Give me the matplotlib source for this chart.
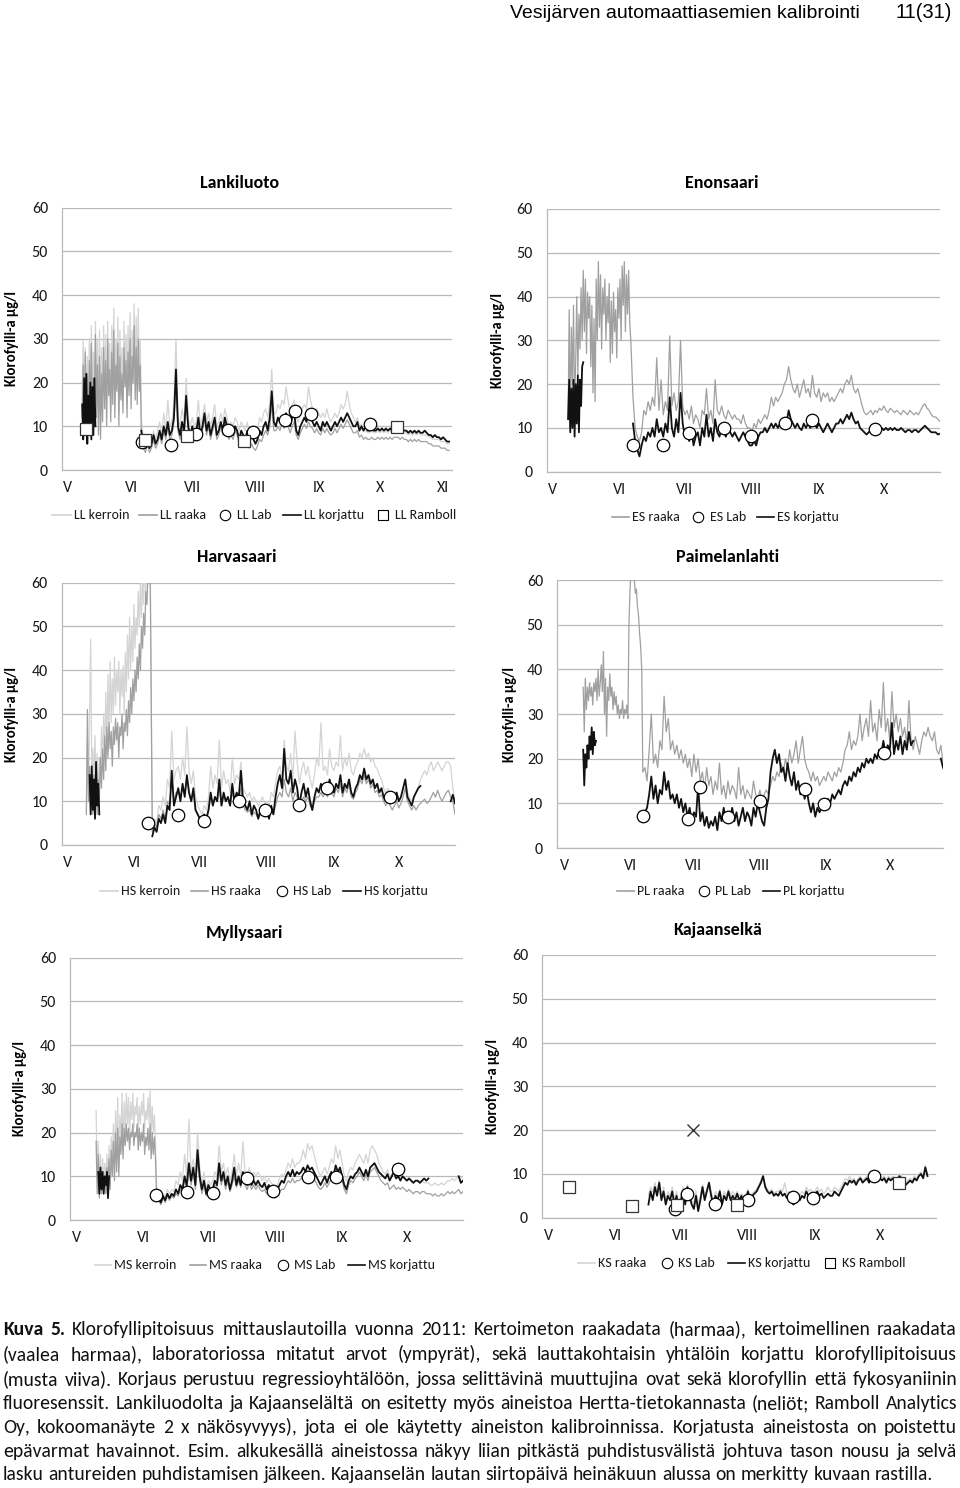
import numpy as np
import matplotlib
matplotlib.use('Agg')
import matplotlib.pyplot as plt
from matplotlib import font_manager
from matplotlib.lines import Line2D

nan = float('nan')

# ---------------------------------------------------------------
# Data (days counted from 1 May 2011)
# "_a" parts are sampled every 0.5 day, "_b" parts every day
# ---------------------------------------------------------------
month_days = [0, 31, 61, 92, 123, 153, 184]
month_names = ['V', 'VI', 'VII', 'VIII', 'IX', 'X', 'XI']

# Lankiluoto
ll_a_start, ll_b_start = 7.0, 36.0
ll_kerroin_a = [16, 30, 12, 28, 14, 26, 10, 30, 17, 33, 13, 27, 19, 34, 15, 30, 11, 32, 10, 28,
                14, 33, 18, 31, 13, 34, 21, 29, 14, 33, 19, 37, 15, 30, 22, 35, 13, 32, 20, 28,
                16, 34, 23, 31, 15, 33, 21, 36, 18, 32, 24, 38, 20, 35, 19, 37, 22, 30]
ll_raaka_a = [12, 24, 9, 27, 11, 22, 8, 25, 13, 29, 10, 21, 15, 31, 12, 24, 8, 26, 7, 22,
              11, 28, 14, 25, 10, 30, 17, 23, 11, 27, 15, 32, 12, 24, 18, 29, 10, 26, 16, 22,
              13, 28, 19, 25, 12, 27, 17, 30, 14, 26, 20, 33, 16, 28, 15, 30, 18, 24]
ll_korj_a = [15, 7, 21, 8, 22, 6, 17, 9, 20, 7, 19, 8, 21, 10]
ll_korj_b = [9, 6, 5, 7, 5, 6, 8, 6, 7, 9, 7, 10, 8, 11, 8, 9, 12, 23, 10, 8,
             11, 9, 17, 10, 8, 10, 8, 9, 12, 8, 10, 13, 9, 11, 8, 10, 12, 8, 9, 11,
             9, 12, 10, 8, 9, 8, 10, 9, 7, 9, 8, 7, 9, 6, 8, 7, 6, 7, 9, 8,
             10, 11, 9, 12, 18, 11, 10, 12, 11, 12, 11, 13, 12, 10, 12, 13, 9, 8, 10, 11,
             12, 11, 13, 12, 11, 10, 11, 10, 9, 11, 10, 11, 10, 9, 10, 11, 10, 11, 12, 11,
             12, 13, 12, 11, 10, 10, 11, 9, 10, 9, 10, 9, 9, 10, 9, 9, 9.5, 9, 9.5, 9,
             9.5, 9, 9.5, 9, 10, 9.5, 9.5, 9, 9.5, 9, 9, 8.5, 9, 8.5, 9, 8.5, 9, 8.5, 8.5, 9,
             8.5, 8, 8, 7.5, 8, 7.5, 7.5, 7, 7.5, 7, 6.5, 6.5]
ll_raaka_b = [8, 5, 4, 6, 4, 5, 7, 5, 6, 8, 6, 9, 7, 10, 7, 8, 11, 20, 9, 7,
              10, 8, 15, 9, 7, 9, 7, 8, 11, 7, 9, 12, 8, 10, 7, 9, 11, 7, 8, 10,
              8, 11, 9, 7, 8, 7, 9, 8, 6, 8, 7, 6, 7, 5, 6, 5, 4.5, 5.5, 7, 6.5,
              8, 9, 8, 10, 15, 9, 9, 10, 9, 10.5, 9.5, 11, 10, 8.5, 10, 11, 8, 7, 8.5, 9.5,
              10.5, 9.5, 11, 10, 9.5, 8.5, 9.5, 8.5, 8, 9.5, 8.5, 9.5, 8.5, 8, 8.5, 9.5, 8.5, 9.5, 10.5, 9.5,
              10.5, 11.5, 10.5, 9.5, 8.5, 8.5, 9, 7.5, 8, 7, 7.5, 7, 7, 7.5, 7, 7, 7.5, 7, 7.5, 7,
              7.5, 7, 7.5, 7, 7.5, 7.5, 7.5, 7, 7.5, 7, 7, 6.5, 7, 6.5, 7, 6.5, 7, 6.5, 6.5, 6.5,
              6.5, 6, 6, 5.5, 5.5, 5.5, 5.5, 5, 5, 5, 4.5, 4.5]
ll_kerroin_b = [12, 7, 6, 8, 6, 7, 9, 7, 9, 11, 8, 13, 9, 16, 10, 11, 15, 30, 12, 10,
                14, 11, 21, 12, 10, 12, 10, 11, 16, 10, 12, 15, 11, 13, 10, 12, 15, 10, 11, 13,
                11, 14, 12, 10, 11, 10, 12, 11, 9, 11, 10, 9, 11, 8, 10, 9, 8, 9, 12, 11,
                13, 14, 12, 15, 23, 13, 13, 15, 14, 16, 15, 19, 16, 13, 15, 16, 12, 11, 13, 14,
                15, 14, 19, 16, 14, 13, 14, 13, 12, 13, 12, 14, 12, 11, 12, 13, 12, 13, 15, 14,
                15, 18, 15, 13, 12, 11, 12, 10, 10.5, 9, 9, 8.5, 8.5, 9, 8.5, 8.5, 9, 8.5, 9, 8.5,
                9, 8.5, 9, 8.5, 9, 9, 9, 8.5, 9, 8.5, 8.5, 8, 8.5, 8, 8.5, 8, 8.5, 8, 8, 8,
                8, 7.5, 7.5, 7, 7, 7, 7, 6.5, 6.5, 6.5, 6, 6]
ll_lab_days = [36.5, 50.6, 62.6, 78.5, 90.6, 106.4, 111.2, 119.2, 148.2]
ll_lab_vals = [6.3, 5.7, 8.2, 9.2, 8.7, 11.4, 13.4, 12.9, 10.5]
ll_ramboll_days = [8.8, 37.8, 58.5, 86.5, 161.3]
ll_ramboll_vals = [9.4, 6.8, 7.7, 6.7, 9.8]

# Enonsaari
es_a_start, es_b_start = 7.0, 37.0
es_raaka_a = [12, 37, 10, 33, 20, 38, 15, 25, 40, 22, 36, 28, 42, 30, 46, 32, 44, 27, 41, 35,
              40, 24, 38, 18, 35, 16, 44, 30, 48, 33, 45, 28, 42, 36, 44, 30, 40, 34, 43, 25,
              39, 27, 41, 32, 37, 26, 42, 35, 44, 30, 47, 38, 48, 32, 45, 36, 46, 34, 30]
es_korj_a = [12, 21, 9, 19, 10, 21, 8, 20, 11, 22, 9, 21, 15, 24, 25]
es_korj_b = [11, 7, 5, 3.5, 6, 8, 7, 9, 8, 10, 8, 12, 9, 10, 8, 11, 9, 17, 10, 8,
             12, 9, 18, 11, 8, 9, 7, 10, 6, 8, 9, 6, 10, 8, 13, 8, 10, 7, 12, 9,
             8, 10, 9, 8, 10, 9, 8, 9, 8, 7, 8, 9, 8, 7, 6, 6, 7, 6, 8, 9,
             9, 10, 9, 10, 11, 10, 11, 10, 11, 10, 12, 11, 14, 12, 11, 10, 11, 10, 9.5, 11,
             10, 11, 10, 12, 11, 10, 11, 10, 9, 10, 11, 10, 9, 10, 11, 11, 12, 11, 12, 13,
             12, 13.5, 12, 11, 11.5, 10, 9.5, 9, 8.5, 9, 9.5, 10, 9.5, 10, 9.5, 10, 9.5, 10, 9.5, 10,
             9.5, 10, 9.5, 9.5, 10, 9.5, 9, 9.5, 9.5, 9, 9.5, 9.5, 9, 9.5, 10, 10.5, 10, 9.5, 9, 9,
             9, 8.5, 8.7]
es_raaka_b = [17, 10, 8, 7, 9, 14, 13, 16, 14, 17, 15, 26, 14, 21, 13, 16, 14, 31, 15, 18,
              14, 16, 30, 15, 13, 14, 12, 15, 11, 13, 12, 10, 14, 13, 19, 12, 14, 11, 21, 14,
              13, 15, 13, 12, 14, 13, 12, 13, 12, 12, 11, 13, 11, 10, 10, 9, 11, 10, 12, 11,
              12, 13, 12, 14, 17, 15, 17, 16, 17, 18, 20, 21, 24, 21, 19, 18, 20, 17, 19, 21,
              18, 19, 17, 22, 18, 17, 19, 16, 18, 17, 18, 16, 17, 16, 17, 18, 19, 18, 20, 21,
              20, 22, 19, 18, 19, 17, 15, 13.5, 13, 13.5, 14, 13, 14, 13.5, 14.5, 14, 15, 14, 13.5, 14.5,
              14, 13.5, 14, 13.5, 13, 14, 13.5, 13, 14, 13.5, 13, 13.5, 13, 14, 15, 15.5, 14.5, 14, 13, 12.5,
              12.5, 12, 11.5]
es_lab_days = [37.1, 51, 63, 79.2, 91.4, 107.3, 120, 148.9]
es_lab_vals = [6.1, 6.1, 8.9, 9.9, 8.2, 11.1, 11.7, 9.7]

# Harvasaari
hs_a_start, hs_b_start, hs_korj_a_start = 8.5, 39.0, 10.0
hs_kerroin_a = [8, 24, 11, 30, 47, 18, 22, 15, 25, 12, 21, 9, 20, 14, 27, 18, 30, 20, 35, 22,
                39, 25, 42, 28, 38, 30, 43, 32, 40, 35, 42, 30, 40, 34, 41, 30, 44, 35, 48, 38,
                52, 40, 50, 42, 55, 45, 52, 48, 58, 50, 60, 52, 62, 55, 65, 58, 66, 60, 68, 65]
hs_raaka_a = [7, 31, 10, 18, 8, 15, 7, 16, 9, 19, 7, 15, 10, 20, 13, 22, 15, 25, 17, 27,
              20, 28, 22, 26, 18, 27, 23, 29, 24, 28, 20, 27, 25, 30, 22, 28, 26, 31, 25, 33,
              28, 36, 30, 38, 33, 40, 35, 43, 38, 46, 40, 50, 45, 53, 48, 58, 55, 62, 60, 64]
hs_korj_a = [16, 7, 18, 8, 15, 6, 19, 9, 14, 7]
hs_korj_b = [2, 4, 3, 6, 5, 7, 5, 9, 8, 17, 9, 11, 13, 10, 14, 11, 16, 12, 10, 13,
             8, 7, 6, 5.5, 7, 6, 8, 12, 9, 11, 10, 15, 9, 12, 10, 11, 9, 14, 10, 12,
             11, 17, 10, 9, 8, 10, 7, 9, 8, 6, 8, 9, 7, 8, 6, 9, 7, 11, 14, 16,
             13, 22, 15, 14, 17, 12, 15, 13, 9, 12, 14, 11, 13, 10, 8, 11, 13, 12, 14, 12,
             13, 12, 15, 13, 12, 14, 13, 16, 12, 14, 13, 15, 12, 11, 13, 14, 16, 15, 17.5, 15,
             16, 14, 15, 13, 14, 12, 13, 11, 10, 12, 11, 10, 11, 12, 10, 11, 13, 15, 11, 10,
             9, 11, 12, 13, 13.5, nan, nan, nan, nan, nan, nan, nan, nan, nan, nan, nan, nan, nan, 10, 11.5,
             9.5]
hs_raaka_b = [3, 5, 4, 7, 6, 8, 6, 10, 9, 15, 10, 12, 12, 11, 13, 12, 15, 12, 10, 12,
              8, 7, 6, 5.5, 7, 6, 8, 11, 9, 11, 10, 13, 9, 11, 10, 10, 9, 12, 10, 11,
              10, 13, 9, 8, 7.5, 8, 6.5, 7.5, 7, 6, 7, 8, 6.5, 7, 6, 8, 7, 9, 11, 12,
              11, 15, 12, 11, 13, 10, 12, 11, 8.5, 10, 11, 10, 11, 9, 8, 10, 11, 11, 12, 11,
              12, 11, 13, 12, 11, 13, 12, 14, 11, 13, 12, 14, 11, 10.5, 12, 13, 15, 14, 16, 14,
              15, 13, 14, 12, 12.5, 11, 11.5, 10, 9, 10, 9, 8, 9, 10, 8.5, 9.5, 11, 13, 10, 9,
              8, 9, 8, 9, 9.5, 10, 10.5, 9.5, 10, 11, 12, 11, 12.5, 11, 10, 11, 12, 12.5, 11, 10,
              7]
hs_kerroin_b = [4, 6, 5, 9, 8, 11, 9, 15, 13, 26, 15, 17, 18, 15, 20, 16, 27, 17, 14, 17,
                11, 9, 8, 7, 9, 8, 11, 18, 13, 16, 14, 24, 13, 17, 14, 15, 12, 20, 14, 16,
                15, 19, 13, 12, 11, 12, 10, 11, 10, 9, 10, 11, 9.5, 10, 9, 12, 11, 14, 17, 18,
                15, 24, 18, 17, 21, 15, 26, 19, 14, 17, 19, 16, 18, 15, 13, 16, 20, 18, 28, 17,
                18, 16, 22, 18, 17, 19, 18, 25, 17, 20, 18, 21, 17, 16, 18, 19, 21, 20, 22, 20,
                21, 19, 20, 18, 17.5, 16, 15, 13, 12, 13, 11, 10, 11, 12, 10, 11, 13, 15, 12, 11,
                10, 11, 12, 13, 15, 16, 17, 16, 18, 19, 17, 18, 19, 18, 17, 18, 19, 19, 18, 13,
                10]
hs_lab_days = [36.8, 51, 62.9, 79.1, 91.1, 106.9, 119.9, 148.9]
hs_lab_vals = [5.0, 6.9, 5.5, 10.1, 8.0, 9.1, 13.0, 10.9]

# Paimelanlahti
pl_a_start, pl_b_start = 9.0, 38.0
pl_raaka_a = [36, 26, 38, 31, 36, 33, 37, 34, 36, 32, 37, 35, 38, 33, 40, 34, 37, 41, 35, 44,
              30, 38, 25, 36, 33, 39, 34, 36, 31, 35, 32, 34, 30, 32, 29, 31, 30, 33, 29, 31,
              30, 32, 29, 50, 58, 62, 65, 62, 60, 57, 58, 54, 52, 48, 45, 40, 17]
pl_korj_a = [22, 14, 21, 18, 23, 20, 25, 22, 27, 21, 26, 23, 24]
pl_raaka_b = [18, 15, 22, 30, 19, 21, 18, 24, 22, 34, 26, 29, 22, 24, 21, 23, 20, 22, 19, 21,
              18, 20, 16, 21, 17, 20, 15, 17, 13, 18, 14, 16, 12, 15, 13, 19, 12, 14, 11, 15,
              12, 14, 13, 11, 18, 12, 14, 11, 13, 12, 11, 15, 12, 11, 13, 10, 12, 13, 12, 14,
              16, 15, 17, 16, 19, 17, 20, 18, 22, 19, 21, 24, 19, 22, 25, 20, 18, 17, 15, 17,
              15, 16, 14, 15, 16, 15, 17, 16, 15, 17, 16, 18, 17, 19, 22, 23, 26, 22, 24, 23,
              25, 30, 24, 27, 29, 25, 33, 26, 28, 24, 31, 27, 37, 26, 29, 24, 35, 27, 30, 26,
              29, 25, 27, 23, 33, 24, 22, 25, 23, 21, 24, 26, 25, 27, 25, 24, 26, 22, 21, 23,
              19, 17]
pl_korj_b = [8, 9, 12, 16, 11, 14, 10, 13, 12, 17, 13, 15, 11, 12, 10, 12, 9, 11, 8, 10,
             7, 9, 6, 8, 7, 14, 6, 8, 5, 7, 4.5, 6, 5, 7, 4, 8, 6, 9, 6, 8,
             7, 9, 6, 8, 5, 7, 9, 6, 8, 7, 5, 9, 7, 10, 8, 6, 5, 9, 11, 17,
             20, 22, 19, 21, 17, 18, 15, 19, 16, 14, 17, 13, 15, 12, 14, 11, 13, 10, 8, 10,
             7, 9, 8, 9, 10, 9, 11, 10, 12, 11, 12, 13, 12, 14, 15, 14, 16, 15, 17, 16,
             18, 17, 19, 18, 20, 19, 20, 19, 21, 20, 22, 21, 24, 21, 23, 22, 28, 21, 24, 22,
             25, 21, 24, 22, 26, 23, 24, nan, nan, nan, nan, nan, nan, nan, nan, nan, nan, nan,
             nan, 20, 18, 17]
pl_lab_days = [36.9, 58.1, 63.7, 77.1, 92, 113.2, 122.1, 150.3]
pl_lab_vals = [7.2, 6.6, 13.7, 6.9, 10.6, 13.2, 9.9, 21.2]

# Myllysaari
ms_a_start, ms_b_start, ms_korj_a_start = 9.0, 38.0, 10.0
ms_kerroin_a = [25, 10, 18, 8, 15, 7, 14, 9, 13, 8, 15, 10, 17, 8, 19, 12, 22, 10, 25, 14,
                28, 12, 24, 18, 29, 16, 27, 20, 29, 22, 28, 19, 27, 23, 29, 21, 26, 24, 28, 20,
                26, 22, 27, 24, 29, 21, 25, 23, 28, 22, 30, 19, 26, 20, 24, 18, 8]
ms_raaka_a = [18, 6, 15, 5, 12, 6, 11, 7, 10, 6, 12, 8, 14, 7, 16, 10, 18, 9, 20, 11,
              21, 10, 19, 15, 22, 14, 21, 17, 22, 18, 21, 16, 20, 19, 22, 17, 20, 19, 22, 16,
              21, 17, 20, 18, 22, 15, 19, 17, 21, 16, 22, 14, 20, 15, 19, 14, 6]
ms_korj_a = [11, 6, 12, 7, 11, 6, 10, 8, 11, 5, 10]
ms_korj_b = [5, 4, 5.5, 4.5, 6, 5, 6, 5.5, 7, 6, 8, 7, 10, 8, 13, 9, 12, 8, 16, 10,
             7, 9, 6, 8, 7, 7, 9, 8, 13, 9, 11, 8, 10, 7, 9, 12, 8, 10, 8, 11,
             9, 8, 9.5, 8, 9, 8, 9, 8, 7.5, 8.5, 7, 8, 7, 6.5, 6, 7, 8, 9, 8.5, 10,
             11, 10, 11.5, 10, 11, 10.5, 11, 12, 11, 12.5, 11.5, 12, 11, 10, 9, 8, 9, 10, 8.5, 10,
             11, 10, 12.5, 11, 12, 10, 8, 7, 9, 10, 9.5, 10.5, 11, 12, 11, 10, 11.5, 10, 12, 12.5,
             13, 12, 11, 10.5, 10, 9.5, 10.5, 9, 10, 11, 9.5, 10, 9, 10, 9.5, 9, 9.5, 9, 8.5, 9,
             9, 8.5, 9, 9.5, 9, 9.5, nan, nan, nan, nan, nan, nan, nan, nan, nan, nan, nan, nan,
             nan, 10, 8.5, 9]
ms_raaka_b = [4.5, 3.5, 5, 4, 5.5, 4.5, 5.5, 5, 6, 5.5, 7, 6.5, 9, 7, 11, 8, 11, 7, 14, 9,
              6, 8, 5.5, 7, 6.5, 6.5, 8, 7.5, 11, 8, 10, 7, 9, 6.5, 8, 10, 7.5, 9, 7.5, 10,
              8, 7, 8.5, 7, 8, 7, 8, 7, 6.5, 7, 6, 6.5, 6, 5.5, 5, 5.5, 6.5, 7, 7, 8,
              9, 8.5, 9.5, 8.5, 9, 9, 9.5, 10.5, 9.5, 11, 10, 10.5, 9.5, 8.5, 7.5, 7, 7.5, 8.5, 7.5, 8.5,
              9.5, 9, 11, 9.5, 10.5, 9, 7, 6, 8, 9, 8.5, 9.5, 10, 11, 10, 9, 10.5, 9, 11, 11.5,
              12, 11, 10, 9, 8.5, 8, 8.5, 7, 7.5, 8, 7, 7.5, 7, 7.5, 7, 6.5, 7, 6.5, 6, 6.5,
              6.5, 6, 6.5, 6.5, 6, 6, 6, 5.5, 6, 5.5, 5.5, 6, 5.5, 6, 6.5, 6, 6.5, 6, 6.5, 7,
              6, 6.5]
ms_kerroin_b = [5, 4, 6, 5, 7, 6, 7, 6.5, 9, 8, 11, 9, 15, 10, 23, 11, 14, 10, 20, 12,
                8, 11, 7, 9, 8, 9, 11, 10, 17, 11, 13, 10, 12, 9, 11, 15, 10, 13, 10, 18,
                11, 10, 12, 10, 11, 10, 11, 10, 9, 10, 8.5, 9.5, 8.5, 8, 7, 8, 9.5, 10.5, 10, 11.5,
                13, 12, 14, 12, 13, 13, 14, 16, 14, 17.5, 16, 17, 15, 13, 11, 10, 11, 12, 10.5, 12,
                14, 13, 17, 14, 16, 13, 10, 9, 11, 12, 11.5, 13, 14, 15, 14, 13, 15, 13, 16, 17,
                16, 15, 13, 12, 11, 10.5, 11.5, 10, 10.5, 11, 10, 10.5, 9.5, 10, 9.5, 9, 9.5, 9, 8.5, 9,
                9, 8.5, 9, 8.5, 8.5, 8.5, 8, 8, 8.5, 8, 8, 8.5, 8, 8.5, 9, 9, 9.5, 9, 9.5, 10,
                9.5, 10]
ms_lab_days = [36.7, 50.9, 63, 78.7, 91.1, 107.3, 120.1, 149]
ms_lab_vals = [5.7, 6.3, 6.1, 9.7, 6.6, 9.9, 9.9, 11.7]

# Kajaanselkä
ks_start = 46.0
ks_korj = [3, 6, 4, 7, 5, 8, 4, 6, 3, 5, 4, 6, 3, 5, 2, 4, 6, 3, 7, 5,
           3, 2, 5, 1.5, 4, 7, 4, 6, 8, 5, 3, 5, 4, 6, 3, 5, 4, 6, 4, 5,
           4, 5.5, 4, 5, 3, 4, 6, 3.5, 5, 5.5, 6, 7, 8, 9.5, 7, 6, 5.5, 6, 5, 5.5,
           5, 6, 5, 5.5, 4.5, 5, 4, 3, 3.5, 4.5, 4, 5, 4.5, 6, 5, 5.5, 4.5, 5, 6, 5,
           5.5, 4.5, 5, 5.5, 5, 5, 6, 5.5, 5, 6, 7, 8, 7.5, 8.5, 8, 8.5, 7.5, 8.5, 9, 8,
           8.5, 9, 8, 9, 9.5, 9, 8.5, 9, 8.5, 9, 8, 9, 8.5, 9, 8, 8.5, 9.5, 9, 8, 7.5,
           8, 8.5, 8, 9, 8.5, 9.5, 10, 9, 11.5, 9.5]
ks_raaka = [5, 7, 6, 8, 6, 8.5, 5, 7, 4, 6, 5, 7, 4, 6, 3.5, 5, 7, 4.5, 7.5, 6,
            4, 3, 6, 3, 5, 7.5, 5, 6.5, 8, 6, 4, 6, 5, 6.5, 4, 6, 5, 6.5, 5, 6,
            5, 6, 5, 5.5, 4, 5, 6.5, 4.5, 5.5, 6, 6.5, 7.5, 8.5, 9.5, 7.5, 6.5, 6, 6.5, 5.5, 6,
            6, 6.5, 6, 8, 5.5, 6, 5, 4, 4.5, 5.5, 5, 6, 5.5, 7, 6, 6.5, 5.5, 6, 7, 6,
            6.5, 5.5, 6, 7, 6, 6, 7, 6.5, 6, 7, 8, 9, 8.5, 9.5, 8.5, 9, 8, 9, 9.5, 8.5,
            9, 9.5, 8.5, 9.5, 10, 9.5, 9, 9.5, 9, 9.5, 8.5, 9.5, 9, 9.5, 8.5, 9, 10, 9.5, 8.5, 8,
            8.5, 9, 8.5, 9.5, 9, 10, 10.5, 9.5, 12, 10]
ks_lab_days = [58.3, 63.9, 76.7, 92.2, 113, 121.9, 150.3]
ks_lab_vals = [2.0, 5.3, 3.2, 4.0, 4.8, 4.5, 9.5]
ks_ramboll_days = [9.2, 38.2, 59, 87.1, 162]
ks_ramboll_vals = [6.9, 2.7, 2.9, 3.0, 7.9]
ks_siirto_day, ks_siirto_val = 66.7, 20.0

caption_lines = [
    "Kuva 5. Klorofyllipitoisuus mittauslautoilla vuonna 2011: Kertoimeton raakadata (harmaa), kertoimellinen raakadata",
    "(vaalea harmaa), laboratoriossa mitatut arvot (ympyrät), sekä lauttakohtaisin yhtälöin korjattu klorofyllipitoisuus",
    "(musta viiva). Korjaus perustuu regressioyhtälöön, jossa selittävinä muuttujina ovat sekä klorofyllin että fykosyaniinin",
    "fluoresenssit. Lankiluodolta ja Kajaanselältä on esitetty myös aineistoa Hertta-tietokannasta (neliöt; Ramboll Analytics",
    "Oy, kokoomanäyte 2 x näkösyvyys), jota ei ole käytetty aineiston kalibroinnissa. Korjatusta aineistosta on poistettu",
    "epävarmat havainnot. Esim. alkukesällä aineistossa näkyy liian pitkästä puhdistusvälistä johtuva tason nousu ja selvä",
    "lasku antureiden puhdistamisen jälkeen. Kajaanselän lautan siirtopäivä heinäkuun alussa on merkitty kuvaan rastilla.",
]

# ---------------------------------------------------------------
installed = {f.name for f in font_manager.fontManager.ttflist}


def pick(*names):
    for n in names:
        if n in installed:
            return n
    return 'DejaVu Sans'


FONT = pick('Carlito', 'Lato', 'Open Sans')
HEAD_FONT = pick('Liberation Sans', 'Arimo', 'DejaVu Sans')
plt.rcParams['font.family'] = [FONT, 'DejaVu Sans']

KERROIN = '#d4d4d4'
RAAKA = '#a0a0a0'
KORJ = '#111111'
GRID = '#b9b9b9'
W, H = 960, 1488


def days(start, vals, step=1.0):
    return start + step * np.arange(len(vals))


def two_part(a_start, a_vals, b_start, b_vals):
    x = np.concatenate([days(a_start, a_vals, 0.5), days(b_start, b_vals)])
    y = np.concatenate([a_vals, b_vals])
    return x, y


def px_axes(fig, x0, y0, x1, y1):
    return fig.add_axes([x0 / W, 1 - y1 / H, (x1 - x0) / W, (y1 - y0) / H])


def setup(ax, xlim, nmonths):
    ax.set_xlim(*xlim)
    ax.set_ylim(0, 60)
    ax.set_yticks(range(0, 61, 10))
    ax.set_xticks(month_days[:nmonths])
    ax.set_xticklabels(month_names[:nmonths])
    ax.tick_params(length=0, labelsize=11.5, colors='#1a1a1a')
    ax.tick_params(axis='y', pad=10)
    ax.tick_params(axis='x', pad=8)
    ax.grid(axis='y', color=GRID, lw=0.9)
    ax.set_axisbelow(True)
    for s in ('top', 'right'):
        ax.spines[s].set_visible(False)
    for s in ('left', 'bottom'):
        ax.spines[s].set_color(GRID)
        ax.spines[s].set_linewidth(0.9)


def labels(fig, title, tx, ty, lx, ly):
    fig.text(tx / W, 1 - ty / H, title, ha='center', va='center', fontsize=13, fontweight='bold')
    fig.text(lx / W, 1 - ly / H, 'Klorofylli-a µg/l', ha='center', va='center',
             rotation=90, fontsize=10.5, fontweight='bold')


def lab(ax, d, v):
    ax.plot(d, v, ls='none', marker='o', ms=9, mfc='white', mec='black', mew=0.9, zorder=6)


def ramboll(ax, d, v):
    ax.plot(d, v, ls='none', marker='s', ms=8, mfc='white', mec='#333333', mew=0.9, zorder=6)


def legend(fig, y, entries):
    # entries: (kind, colour, label, handle x px, text x px)
    fy = 1 - y / H
    for kind, color, text, hx, tx in entries:
        if kind == 'line':
            fig.add_artist(Line2D([hx / W, (tx - 3) / W], [fy, fy], color=color, lw=1.2,
                                  transform=fig.transFigure))
        else:
            fig.add_artist(Line2D([hx / W], [fy], ls='none', marker='o' if kind == 'circle' else 's',
                                  ms=7.5 if kind == 'circle' else 7, mfc='white', mec='black', mew=0.8,
                                  transform=fig.transFigure))
        fig.text(tx / W, fy, text, ha='left', va='center', fontsize=10, color='#1a1a1a')


fig = plt.figure(figsize=(W / 100, H / 100), dpi=100)

# header
fig.text(510 / W, 1 - 13 / H, 'Vesijärven automaattiasemien kalibrointi', ha='left', va='center',
         fontsize=14, family=HEAD_FONT)
fig.text(952 / W, 1 - 13 / H, '11(31)', ha='right', va='center', fontsize=14.5, family=HEAD_FONT)

# --- Lankiluoto
ax = px_axes(fig, 62, 207.7, 452, 470)
setup(ax, (-2.9, 188.4), 7)
x, y = two_part(ll_a_start, ll_kerroin_a, ll_b_start, ll_kerroin_b)
ax.plot(x, y, color=KERROIN, lw=0.9)
x, y = two_part(ll_a_start, ll_raaka_a, ll_b_start, ll_raaka_b)
ax.plot(x, y, color=RAAKA, lw=0.9)
ax.plot(days(ll_a_start, ll_korj_a, 0.5), ll_korj_a, color=KORJ, lw=1.3)
ax.plot(days(ll_b_start, ll_korj_b), ll_korj_b, color=KORJ, lw=1.3)
lab(ax, ll_lab_days, ll_lab_vals)
ramboll(ax, ll_ramboll_days, ll_ramboll_vals)
labels(fig, 'Lankiluoto', 240, 183, 12, 339)
legend(fig, 515, [('line', KERROIN, 'LL kerroin', 52, 74), ('line', RAAKA, 'LL raaka', 139, 160),
                  ('circle', None, 'LL Lab', 225, 237), ('line', KORJ, 'LL korjattu', 283, 304),
                  ('square', None, 'LL Ramboll', 383, 395)])

# --- Enonsaari
ax = px_axes(fig, 546.7, 209, 940, 471.7)
setup(ax, (-2.9, 179), 6)
x, y = two_part(es_a_start, es_raaka_a, es_b_start, es_raaka_b)
ax.plot(x, y, color=RAAKA, lw=0.9)
ax.plot(days(es_a_start, es_korj_a, 0.5), es_korj_a, color=KORJ, lw=1.3)
ax.plot(days(es_b_start, es_korj_b), es_korj_b, color=KORJ, lw=1.3)
lab(ax, es_lab_days, es_lab_vals)
labels(fig, 'Enonsaari', 722, 183, 498, 340)
legend(fig, 517, [('line', RAAKA, 'ES raaka', 612, 632), ('circle', None, 'ES Lab', 698, 710),
                  ('line', KORJ, 'ES korjattu', 757, 777)])

# --- Harvasaari
ax = px_axes(fig, 61.7, 582.7, 455, 845)
setup(ax, (-2.9, 179), 6)
x, y = two_part(hs_a_start, hs_kerroin_a, hs_b_start, hs_kerroin_b)
ax.plot(x, y, color=KERROIN, lw=0.9)
x, y = two_part(hs_a_start, hs_raaka_a, hs_b_start, hs_raaka_b)
ax.plot(x, y, color=RAAKA, lw=0.9)
ax.plot(days(hs_korj_a_start, hs_korj_a, 0.5), hs_korj_a, color=KORJ, lw=1.3)
ax.plot(days(hs_b_start, hs_korj_b), hs_korj_b, color=KORJ, lw=1.3)
lab(ax, hs_lab_days, hs_lab_vals)
labels(fig, 'Harvasaari', 237, 557, 12, 714)
legend(fig, 891, [('line', KERROIN, 'HS kerroin', 100, 121), ('line', RAAKA, 'HS raaka', 191, 211),
                  ('circle', None, 'HS Lab', 282, 293), ('line', KORJ, 'HS korjattu', 343, 364)])

# --- Paimelanlahti
ax = px_axes(fig, 557, 580, 943, 848)
setup(ax, (-3.3, 178), 6)
x, y = two_part(pl_a_start, pl_raaka_a, pl_b_start, pl_raaka_b)
ax.plot(x, y, color=RAAKA, lw=0.9)
ax.plot(days(pl_a_start, pl_korj_a, 0.5), pl_korj_a, color=KORJ, lw=1.3)
ax.plot(days(pl_b_start, pl_korj_b), pl_korj_b, color=KORJ, lw=1.3)
lab(ax, pl_lab_days, pl_lab_vals)
labels(fig, 'Paimelanlahti', 728, 557, 510, 714)
legend(fig, 891, [('line', RAAKA, 'PL raaka', 617, 637), ('circle', None, 'PL Lab', 704, 715),
                  ('line', KORJ, 'PL korjattu', 763, 783)])

# --- Myllysaari
ax = px_axes(fig, 70, 957.7, 463, 1220)
setup(ax, (-3.1, 179), 6)
x, y = two_part(ms_a_start, ms_kerroin_a, ms_b_start, ms_kerroin_b)
ax.plot(x, y, color=KERROIN, lw=0.9)
x, y = two_part(ms_a_start, ms_raaka_a, ms_b_start, ms_raaka_b)
ax.plot(x, y, color=RAAKA, lw=0.9)
ax.plot(days(ms_korj_a_start, ms_korj_a, 0.5), ms_korj_a, color=KORJ, lw=1.3)
ax.plot(days(ms_b_start, ms_korj_b), ms_korj_b, color=KORJ, lw=1.3)
lab(ax, ms_lab_days, ms_lab_vals)
labels(fig, 'Myllysaari', 245, 933, 20, 1089)
legend(fig, 1265, [('line', KERROIN, 'MS kerroin', 95, 114), ('line', RAAKA, 'MS raaka', 190, 209),
                   ('circle', None, 'MS Lab', 283, 294), ('line', KORJ, 'MS korjattu', 348, 368)])

# --- Kajaanselkä
ax = px_axes(fig, 542, 955, 935.7, 1217.7)
setup(ax, (-3.2, 178.8), 6)
ax.plot(days(ks_start, ks_raaka), ks_raaka, color=KERROIN, lw=1.0)
ax.plot(days(ks_start, ks_korj), ks_korj, color=KORJ, lw=1.3)
lab(ax, ks_lab_days, ks_lab_vals)
ramboll(ax, ks_ramboll_days, ks_ramboll_vals)
ax.plot([ks_siirto_day], [ks_siirto_val], ls='none', marker='x', ms=9, mew=1.0, color='#333333', zorder=6)
labels(fig, 'Kajaanselkä', 718, 930, 493, 1086)
legend(fig, 1263, [('line', KERROIN, 'KS raaka', 578, 598), ('circle', None, 'KS Lab', 667, 678),
                   ('line', KORJ, 'KS korjattu', 728, 748), ('square', None, 'KS Ramboll', 830, 842)])

# --- caption, justified line by line
renderer = fig.canvas.get_renderer()
left, right = 3, 957
line_y = [1330, 1355, 1380, 1404, 1428, 1452, 1475]


def word_width(word, size, bold):
    t = fig.text(0, 0, word, fontsize=size, fontweight='bold' if bold else 'normal')
    w = t.get_window_extent(renderer).width
    t.remove()
    return w


size = 12.5
space = word_width('a a', size, False) - word_width('aa', size, False)
widest = 0
for line in caption_lines[:-1]:
    ws = line.split(' ')
    tot = sum(word_width(w, size, False) for w in ws) + space * (len(ws) - 1)
    widest = max(widest, tot)
size = size * (right - left) * 0.985 / widest
space = word_width('a a', size, False) - word_width('aa', size, False)

for i, line in enumerate(caption_lines):
    words = line.split(' ')
    bold = [i == 0 and k < 2 for k in range(len(words))]
    widths = [word_width(w, size, b) for w, b in zip(words, bold)]
    if i < len(caption_lines) - 1:
        gap = (right - left - sum(widths)) / (len(words) - 1)
    else:
        gap = space
    xpos = left
    for w, wd, b in zip(words, widths, bold):
        fig.text(xpos / W, 1 - (line_y[i] + 5) / H, w, fontsize=size, va='baseline', ha='left',
                 fontweight='bold' if b else 'normal', color='#111111')
        xpos += wd + gap

fig.savefig('out.png', dpi=100)
